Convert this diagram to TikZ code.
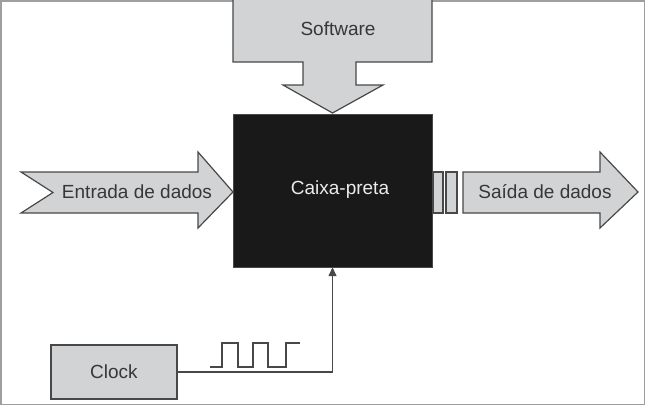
\documentclass[tikz,border=0pt]{standalone}
\usepackage{fontspec}
\setmainfont{Liberation Sans}
\usetikzlibrary{arrows.meta}
\definecolor{shade}{RGB}{210,211,212}
\definecolor{edge}{RGB}{72,72,72}
\definecolor{ink}{RGB}{55,55,55}
\begin{document}
\begin{tikzpicture}[x=1pt,y=-1pt,
    graybox/.style={fill=shade,draw=edge,line width=1.2pt,line join=miter},
    txt/.style={text=ink,font=\fontsize{19}{21}\selectfont,inner sep=0pt}]
\useasboundingbox (0,0) rectangle (645,405);
\draw[gray!75,line width=1.5pt] (0.75,0.75) rectangle (644.25,404.25);
% software
\draw[graybox] (233,-2)--(432,-2)--(432,62)--(356,62)--(356,85)--(383,85)--(332.5,113)
  --(283,85)--(303,85)--(303,62)--(233,62)--cycle;
\node[txt] (sw) at (338,29) {Software};
% caixa-preta
\node[fill=black!90,draw=edge,minimum width=199pt,minimum height=153pt,inner sep=0pt] (cpu) at (332.5,190.5) {};
\node[txt,text=white!92!black] (cpulbl) at (340,190) {Caixa-preta};
% entrada
\draw[graybox] (21,172)--(198,172)--(198,152)--(233,192)--(198,228)--(198,213)--(21,213)--(53,192.5)--cycle;
\node[txt] (in) at (137,192) {Entrada de dados};
% saida
\draw[graybox] (433,172) rectangle (443,213);
\draw[graybox] (446,172) rectangle (457,213);
\draw[graybox] (463,172)--(600,172)--(600,152)--(638,192)--(600,228)--(600,213)--(463,213)--cycle;
\node[txt] (out) at (545,192) {Saída de dados};
% clock
\node[graybox,txt,minimum width=126pt,minimum height=54pt] (clk) at (114,372) {Clock};
\draw[edge,line width=1.4pt,-{Triangle[width=8pt,length=9pt]}] (clk.east) -| (cpu.south);
\draw[edge,line width=1.4pt] (210,367)--(222,367)--(222,343)--(238,343)--(238,367)--(253,367)
  --(253,343)--(268,343)--(268,367)--(286,367)--(286,343)--(300,343);
\end{tikzpicture}
\end{document}
